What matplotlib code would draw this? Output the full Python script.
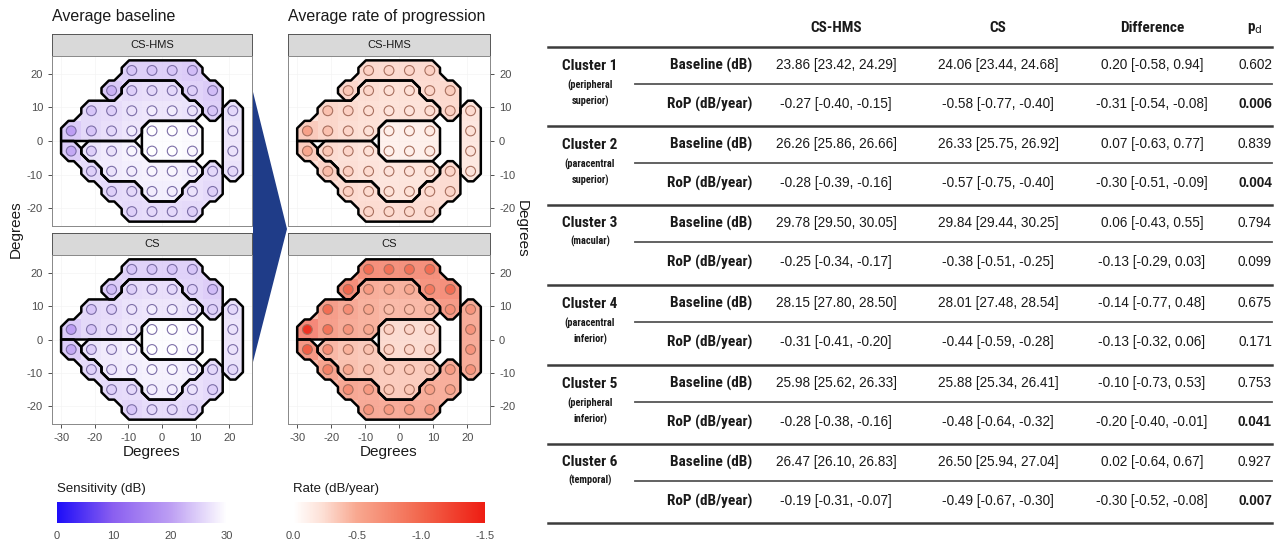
import numpy as np
import matplotlib
matplotlib.use('Agg')
import matplotlib.pyplot as plt
from matplotlib.patches import Polygon, Rectangle
from matplotlib.colors import LinearSegmentedColormap, Normalize
from matplotlib.cm import ScalarMappable
from matplotlib import font_manager as fm

plt.rcParams['font.family'] = ['Liberation Sans', 'DejaVu Sans']
plt.rcParams['axes.unicode_minus'] = False


def pick(names):
    for n in names:
        try:
            fm.findfont(fm.FontProperties(family=n), fallback_to_default=False)
            return n
        except Exception:
            pass
    return 'DejaVu Sans'


narrow = pick(['Liberation Sans Narrow', 'Roboto Condensed', 'Liberation Sans'])

## test locations (24-2), cluster membership
vf_x = [-9, -3, 3, 9,
        -15, -9, -3, 3, 9, 15,
        -21, -15, -9, -3, 3, 9, 15, 21,
        -27, -21, -15, -9, -3, 3, 9, 21,
        -27, -21, -15, -9, -3, 3, 9, 21,
        -21, -15, -9, -3, 3, 9, 15, 21,
        -15, -9, -3, 3, 9, 15,
        -9, -3, 3, 9]
vf_y = [21, 21, 21, 21,
        15, 15, 15, 15, 15, 15,
        9, 9, 9, 9, 9, 9, 9, 9,
        3, 3, 3, 3, 3, 3, 3, 3,
        -3, -3, -3, -3, -3, -3, -3, -3,
        -9, -9, -9, -9, -9, -9, -9, -9,
        -15, -15, -15, -15, -15, -15,
        -21, -21, -21, -21]
cluster_id = [1, 1, 1, 1,
              1, 2, 2, 2, 1, 1,
              2, 2, 2, 2, 2, 2, 1, 6,
              2, 2, 2, 2, 3, 3, 3, 6,
              5, 4, 4, 4, 3, 3, 3, 6,
              5, 4, 4, 4, 4, 4, 5, 6,
              5, 5, 4, 4, 5, 5,
              5, 5, 5, 5]

## point values
base_hms = [24, 24, 24, 23,
            22, 25, 26, 26, 25, 23,
            24, 25, 27, 28, 28, 27, 24, 26,
            20, 24, 26, 28, 30, 30, 29, 27,
            21, 25, 27, 29, 30, 30, 29, 27,
            25, 27, 28, 29, 29, 28, 26, 26,
            25, 26, 28, 28, 27, 25,
            25, 26, 26, 25]
base_cs = [24, 24, 24, 24,
           23, 25, 26, 26, 25, 23,
           24, 25, 27, 28, 28, 27, 25, 26,
           20, 24, 26, 28, 30, 30, 29, 27,
           21, 25, 27, 29, 30, 30, 29, 27,
           25, 27, 28, 29, 29, 28, 26, 26,
           25, 26, 28, 28, 27, 25,
           24, 26, 26, 25]
rate_hms = [-0.30, -0.28, -0.28, -0.30,
            -0.35, -0.28, -0.22, -0.22, -0.28, -0.32,
            -0.38, -0.30, -0.24, -0.20, -0.20, -0.24, -0.30, -0.25,
            -0.55, -0.38, -0.28, -0.22, -0.12, -0.12, -0.15, -0.22,
            -0.50, -0.35, -0.28, -0.22, -0.12, -0.12, -0.15, -0.20,
            -0.40, -0.30, -0.25, -0.20, -0.20, -0.22, -0.28, -0.20,
            -0.30, -0.25, -0.22, -0.22, -0.25, -0.28,
            -0.28, -0.26, -0.26, -0.28]
rate_cs = [-0.95, -0.92, -0.92, -0.95,
           -1.00, -0.60, -0.50, -0.50, -0.85, -0.95,
           -0.95, -0.70, -0.50, -0.40, -0.40, -0.45, -0.70, -0.65,
           -1.35, -0.90, -0.65, -0.50, -0.30, -0.28, -0.28, -0.65,
           -1.05, -0.70, -0.45, -0.38, -0.30, -0.28, -0.30, -0.65,
           -0.80, -0.50, -0.40, -0.35, -0.35, -0.38, -0.60, -0.65,
           -0.70, -0.60, -0.35, -0.35, -0.55, -0.55,
           -0.65, -0.60, -0.60, -0.65]

## table
cluster_names = ['Cluster 1', 'Cluster 2', 'Cluster 3', 'Cluster 4', 'Cluster 5', 'Cluster 6']
cluster_desc = ['(peripheral\nsuperior)', '(paracentral\nsuperior)', '(macular)',
                '(paracentral\ninferior)', '(peripheral\ninferior)', '(temporal)']
row_names = ['Baseline (dB)', 'RoP (dB/year)']
col_names = ['CS-HMS', 'CS', 'Difference']
col_hms = ['23.86 [23.42, 24.29]', '-0.27 [-0.40, -0.15]',
           '26.26 [25.86, 26.66]', '-0.28 [-0.39, -0.16]',
           '29.78 [29.50, 30.05]', '-0.25 [-0.34, -0.17]',
           '28.15 [27.80, 28.50]', '-0.31 [-0.41, -0.20]',
           '25.98 [25.62, 26.33]', '-0.28 [-0.38, -0.16]',
           '26.47 [26.10, 26.83]', '-0.19 [-0.31, -0.07]']
col_cs = ['24.06 [23.44, 24.68]', '-0.58 [-0.77, -0.40]',
          '26.33 [25.75, 26.92]', '-0.57 [-0.75, -0.40]',
          '29.84 [29.44, 30.25]', '-0.38 [-0.51, -0.25]',
          '28.01 [27.48, 28.54]', '-0.44 [-0.59, -0.28]',
          '25.88 [25.34, 26.41]', '-0.48 [-0.64, -0.32]',
          '26.50 [25.94, 27.04]', '-0.49 [-0.67, -0.30]']
col_diff = ['0.20 [-0.58, 0.94]', '-0.31 [-0.54, -0.08]',
            '0.07 [-0.63, 0.77]', '-0.30 [-0.51, -0.09]',
            '0.06 [-0.43, 0.55]', '-0.13 [-0.29, 0.03]',
            '-0.14 [-0.77, 0.48]', '-0.13 [-0.32, 0.06]',
            '-0.10 [-0.73, 0.53]', '-0.20 [-0.40, -0.01]',
            '0.02 [-0.64, 0.67]', '-0.30 [-0.52, -0.08]']
col_p = ['0.602', '0.006', '0.839', '0.004', '0.794', '0.099',
         '0.675', '0.171', '0.753', '0.041', '0.927', '0.007']

sens_cmap = LinearSegmentedColormap.from_list(
    'sens', [(0, '#1d0df8'), (0.33, '#8a5ff0'), (0.67, '#bd9ff3'), (1, '#ffffff')])
rate_cmap = LinearSegmentedColormap.from_list(
    'rate', [(0, '#ee1c12'), (0.33, '#f2664c'), (0.67, '#f8a890'), (0.85, '#fde0d6'), (1, '#ffffff')])
sens_norm = Normalize(0, 30)
rate_norm = Normalize(-1.5, 0)


def cell_edges(cells, s=3):
    es = set()
    for cx, cy in cells:
        p = [(cx - s, cy - s), (cx + s, cy - s), (cx + s, cy + s), (cx - s, cy + s)]
        for i in range(4):
            es.add((p[i], p[(i + 1) % 4]))
    return [e for e in es if (e[1], e[0]) not in es]


# outer edges of the whole field; a corner on a straight stretch of it stays sharp
field_edges = cell_edges(list(zip(vf_x, vf_y)))


def field_straight(v):
    ins = [a for a, b in field_edges if b == v]
    outs = [b for a, b in field_edges if a == v]
    if len(ins) != 1 or len(outs) != 1:
        return False
    u, w = ins[0], outs[0]
    return (v[0] - u[0]) * (w[1] - v[1]) - (v[1] - u[1]) * (w[0] - v[0]) == 0


def outline(cells):
    bnd = cell_edges(cells)
    out = {}
    for a, b in bnd:
        out.setdefault(a, []).append(b)
    first = min(bnd)
    used = {first}
    a, b = first
    loop = [a]
    while True:
        cands = [n for n in out[b] if (b, n) not in used]
        if not cands:
            break
        loop.append(b)
        dx, dy = b[0] - a[0], b[1] - a[1]
        nxt = min(cands, key=lambda n: dx * (n[1] - b[1]) - dy * (n[0] - b[0]))
        used.add((b, nxt))
        a, b = b, nxt
    n = len(loop)
    keep = []
    for i in range(n):
        u, v, w = loop[i - 1], loop[i], loop[(i + 1) % n]
        if (v[0] - u[0]) * (w[1] - v[1]) - (v[1] - u[1]) * (w[0] - v[0]) != 0:
            keep.append(v)
    return keep


def chamfer(pts, c=2.2):
    n = len(pts)
    res = []
    for i in range(n):
        u, v, w = (np.array(pts[i - 1], float), np.array(pts[i], float),
                   np.array(pts[(i + 1) % n], float))
        if field_straight(pts[i]):
            res.append(v)
            continue
        du = (u - v) / np.linalg.norm(u - v)
        dw = (w - v) / np.linalg.norm(w - v)
        res.append(v + du * c)
        res.append(v + dw * c)
    return np.array(res)


def draw_map(ax, vals, cmap, norm, edge):
    for k in range(1, 7):
        cells = [(x, y) for x, y, c in zip(vf_x, vf_y, cluster_id) if c == k]
        poly = chamfer(outline(cells))
        clip = Polygon(poly, closed=True, transform=ax.transData)
        mean = np.mean([v for v, c in zip(vals, cluster_id) if c == k])
        ax.add_patch(Polygon(poly, closed=True, fc=cmap(norm(mean)), ec='none', alpha=0.65, zorder=1))
        for x, y, v, c in zip(vf_x, vf_y, vals, cluster_id):
            if c == k:
                r = Rectangle((x - 3, y - 3), 6, 6, fc=cmap(norm(v)), ec='none', alpha=0.35,
                              zorder=2, antialiased=False)
                ax.add_patch(r)
                r.set_clip_path(clip)
        ax.add_patch(Polygon(poly, closed=True, fill=False, ec='black', lw=1.8,
                             joinstyle='round', zorder=4))
    ax.scatter(vf_x, vf_y, c=vals, cmap=cmap, norm=norm, s=50, edgecolors=edge,
               linewidths=0.8, zorder=5)


W, H = 1275, 544
fig = plt.figure(figsize=(W / 100, H / 100), dpi=100)


def px_axes(x0, y0, x1, y1):
    return fig.add_axes([x0 / W, 1 - y1 / H, (x1 - x0) / W, (y1 - y0) / H])


canvas = px_axes(0, 0, W, H)
canvas.set_xlim(0, W)
canvas.set_ylim(H, 0)
canvas.axis('off')

# arrow between the maps
canvas.add_patch(Polygon([(253, 92), (287, 229), (253, 362)], closed=True, fc='#1f3c88', ec='none'))

cols = [(52, 252), (288, 490)]
rows = [((34, 56), (56, 226)), ((233, 255), (255, 424))]
maps = [[base_hms, base_cs], [rate_hms, rate_cs]]
strips = ['CS-HMS', 'CS']
for ci, (x0, x1) in enumerate(cols):
    cmap = sens_cmap if ci == 0 else rate_cmap
    norm = sens_norm if ci == 0 else rate_norm
    edge = '#7d6fa8' if ci == 0 else '#a8705f'
    for ri, ((s0, s1), (p0, p1)) in enumerate(rows):
        sa = px_axes(x0, s0, x1, s1)
        sa.set_facecolor('#d9d9d9')
        sa.set_xticks([])
        sa.set_yticks([])
        for sp in sa.spines.values():
            sp.set_color('#555555')
            sp.set_linewidth(0.7)
        sa.text(0.5, 0.5, strips[ri], ha='center', va='center', fontsize=8, color='#1a1a1a',
                transform=sa.transAxes)
        ax = px_axes(x0, p0, x1, p1)
        draw_map(ax, maps[ci][ri], cmap, norm, edge)
        ax.set_xlim(-32.7, 26.7)
        ax.set_ylim(-25.3, 25.3)
        ax.set_xticks([-30, -20, -10, 0, 10, 20])
        ax.set_yticks([-20, -10, 0, 10, 20])
        ax.grid(color='#f4f4f4', lw=0.5)
        ax.set_axisbelow(True)
        for sp in ax.spines.values():
            sp.set_color('#888888')
            sp.set_linewidth(0.7)
        ax.tick_params(length=3, color='#333333', labelcolor='#4d4d4d', labelsize=8, width=0.6)
        if ci == 1:
            ax.yaxis.tick_right()
        if ri == 0:
            ax.tick_params(axis='x', bottom=False, labelbottom=False)

fig.text(52 / W, 1 - 17 / H, 'Average baseline', fontsize=11.5, color='#1a1a1a', va='center')
fig.text(288 / W, 1 - 17 / H, 'Average rate of progression', fontsize=11.5, color='#1a1a1a', va='center')
fig.text(152 / W, 1 - 452 / H, 'Degrees', fontsize=11, ha='center', va='center', color='#1a1a1a')
fig.text(389 / W, 1 - 452 / H, 'Degrees', fontsize=11, ha='center', va='center', color='#1a1a1a')
fig.text(16 / W, 1 - 229 / H, 'Degrees', fontsize=11, ha='center', va='center', rotation=90, color='#1a1a1a')
fig.text(522 / W, 1 - 229 / H, 'Degrees', fontsize=11, ha='center', va='center', rotation=270, color='#1a1a1a')

# colour bars
fig.text(57 / W, 1 - 489 / H, 'Sensitivity (dB)', fontsize=9.5, color='#1a1a1a', va='center')
fig.text(293 / W, 1 - 489 / H, 'Rate (dB/year)', fontsize=9.5, color='#1a1a1a', va='center')
cb1 = px_axes(57, 502, 227, 523)
c1 = fig.colorbar(ScalarMappable(sens_norm, sens_cmap), cax=cb1, orientation='horizontal',
                  ticks=[0, 10, 20, 30])
c1.outline.set_visible(False)
cb1.tick_params(length=0, labelsize=8, labelcolor='#4d4d4d', pad=6)
cb2 = px_axes(293, 502, 485, 523)
c2 = fig.colorbar(ScalarMappable(rate_norm, rate_cmap), cax=cb2, orientation='horizontal',
                  ticks=[0, -0.5, -1.0, -1.5])
c2.outline.set_visible(False)
cb2.set_xticklabels(['0.0', '-0.5', '-1.0', '-1.5'])
cb2.invert_xaxis()
cb2.tick_params(length=0, labelsize=8, labelcolor='#4d4d4d', pad=6)

# table
col_x = [836, 998, 1152]
p_x = 1255
tops = [47, 126, 205, 285, 365, 444, 523]
line_c = '#3c3c3c'
canvas.plot([548, 1272], [tops[0], tops[0]], color=line_c, lw=1.8)
for j, name in enumerate(col_names):
    canvas.text(col_x[j], 28, name, ha='center', va='center', fontsize=11,
                fontweight='bold', family=narrow, color='#1a1a1a')
canvas.text(p_x, 28, r'p$_{\rm d}$', ha='center', va='center', fontsize=11,
            fontweight='bold', family=narrow, color='#1a1a1a')
for i in range(6):
    t, b = tops[i], tops[i + 1]
    mid = (t + b) / 2 - 3
    canvas.plot([548, 1272], [b, b], color=line_c, lw=1.8)
    canvas.plot([635, 1272], [mid, mid], color='#555555', lw=1.3)
    if '\n' in cluster_desc[i]:
        canvas.text(590, t + 19, cluster_names[i], ha='center', va='center', fontsize=11,
                    fontweight='bold', family=narrow, color='#1a1a1a')
        canvas.text(590, t + 46, cluster_desc[i], ha='center', va='center', fontsize=7.5,
                    fontweight='bold', family=narrow, color='#1a1a1a', linespacing=1.55)
    else:
        canvas.text(590, t + 18, cluster_names[i], ha='center', va='center', fontsize=11,
                    fontweight='bold', family=narrow, color='#1a1a1a')
        canvas.text(590, t + 36, cluster_desc[i], ha='center', va='center', fontsize=7.5,
                    fontweight='bold', family=narrow, color='#1a1a1a')
    for r in range(2):
        k = 2 * i + r
        y = t + 18 + r * 39
        canvas.text(752, y, row_names[r], ha='right', va='center', fontsize=11,
                    fontweight='bold', family=narrow, color='#1a1a1a')
        for j, col in enumerate([col_hms, col_cs, col_diff]):
            canvas.text(col_x[j], y, col[k], ha='center', va='center', fontsize=9.8, color='#1a1a1a')
        bold = float(col_p[k]) < 0.05
        canvas.text(p_x, y, col_p[k], ha='center', va='center', fontsize=9.8, color='#1a1a1a',
                    fontweight='bold' if bold else 'normal')

fig.savefig('out.png', dpi=100, facecolor='white')
